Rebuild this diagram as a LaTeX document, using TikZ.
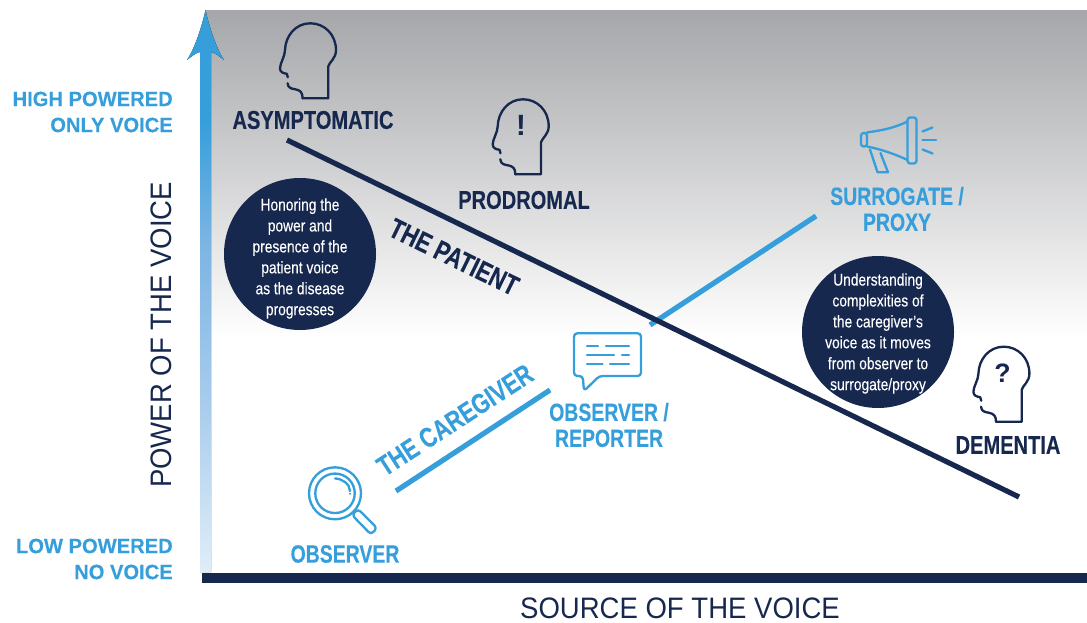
\documentclass[tikz,border=0pt]{standalone}
\usepackage{fontspec}
\setmainfont{Liberation Sans}
\newfontfamily\narrowbold[FakeStretch=0.78,FakeBold=0.25]{Liberation Sans Bold}
\newfontfamily\narrowreg[FakeStretch=0.82,FakeBold=0.15]{Liberation Sans}
\newfontfamily\lightreg[FakeStretch=0.93]{Liberation Sans}
\newfontfamily\sidebold[FakeStretch=0.975,FakeBold=0.2]{Liberation Sans Bold}
\definecolor{navy}{HTML}{17284F}
\definecolor{sky}{HTML}{369FDB}
\definecolor{topgray}{HTML}{A6A7AA}
\definecolor{fadeA}{HTML}{7BB4E3}
\definecolor{fadeB}{HTML}{A8CCEC}
\definecolor{fadeC}{HTML}{E0EDF8}
\pgfdeclareverticalshading{arrowfade}{100bp}{color(0bp)=(fadeC); color(25bp)=(fadeC); color(40bp)=(fadeB); color(54.5bp)=(fadeA); color(65bp)=(sky); color(100bp)=(sky)}
\tikzset{
  navyline/.style={draw=navy,line width=3.9pt},
  skyline/.style={draw=sky,line width=3.9pt},
  navylabel/.style={text=navy,inner sep=0pt,align=center,font=\narrowbold\fontsize{19.3}{20}\selectfont},
  skylabel/.style={text=sky,inner sep=0pt,align=center,font=\narrowbold\fontsize{18.7}{19.5}\selectfont},
  slanted/.style={font=\narrowbold\fontsize{21}{21}\selectfont},
  axisside/.style={text=sky,inner sep=0pt,align=right,anchor=east,font=\sidebold\fontsize{15.5}{19.5}\selectfont},
  axistitle/.style={text=navy,inner sep=0pt,font=\lightreg\fontsize{22.2}{24}\selectfont},
  bubble/.style={circle,fill=navy,draw=none,minimum size=114pt,inner sep=0pt},
  bubbletext/.style={inner sep=0pt,text=white,align=center,font=\narrowreg\fontsize{12.6}{15.7}\selectfont},
  icon/.style={line width=1.75pt,line cap=round,line join=round},
  head/.pic={
    \draw[icon,navy] (-25.7,0) -- (0,0) -- (0,-32)
      .. controls (1,-36) and (7.7,-40) .. (7.7,-48)
      .. controls (7.7,-64) and (-4,-75) .. (-18,-75)
      .. controls (-33,-75) and (-43,-62) .. (-43.3,-48)
      .. controls (-43.3,-42) and (-48.3,-35) .. (-48.3,-30)
      .. controls (-48.3,-26) and (-45,-25) .. (-41.5,-24.5)
      -- (-40.5,-21);
    \draw[icon,navy] (-40.7,-15) .. controls (-40.5,-10) and (-36,-9.5) .. (-33,-9)
      .. controls (-28,-8) and (-25.7,-6) .. (-25.7,0);
  }
}
\begin{document}
\begin{tikzpicture}[x=0.75pt,y=-0.75pt]
\useasboundingbox (0,0) rectangle (1087,623);
% background
\fill[top color=topgray,bottom color=white] (205,11) rectangle (1087,338);
% vertical arrow
\fill[shading=arrowfade]
  (205.5,10) .. controls (209,26) and (216,48) .. (224,60)
  .. controls (219,56) and (215,53) .. (211,52) -- (211,572) -- (200,572) -- (200,52)
  .. controls (196,53) and (192,56) .. (187,60)
  .. controls (195,48) and (202,26) .. (205.5,10) -- cycle;
% horizontal axis
\fill[navy] (202,572.5) rectangle (1087,582.5);
% connectors
\coordinate (patientA) at (287,140);
\coordinate (patientB) at (1019,497);
\coordinate (careA) at (396,491);
\coordinate (careB) at (550,390);
\coordinate (surrA) at (650,325);
\coordinate (surrB) at (816,216);
\draw[skyline] (surrA) -- (surrB);
\draw[navyline] (patientA) -- (patientB);
\draw[skyline] (careA) -- (careB);
% heads
\pic at (328.3,98.3) {head};
\pic at (541,174.3) {head};
\pic at (1021.7,421.7) {head};
\node[text=navy,inner sep=0pt,font=\bfseries\fontsize{22}{22}\selectfont] (exclaim) at (521,125.5) {!};
\node[text=navy,inner sep=0pt,font=\bfseries\fontsize{20}{20}\selectfont] (query) at (1002.5,373) {?};
% megaphone
\begin{scope}[icon,sky]
  \draw[rounded corners=2pt] (907.5,117.5) rectangle (916.5,163.5);
  \draw (907.5,121.5) .. controls (890,130) and (875,131) .. (867,132.5);
  \draw (907.5,160) .. controls (895,154) and (880,149) .. (867,146.5);
  \draw[rounded corners=2pt] (867,133) -- (861,133) -- (861,146.5) -- (867,146.5) -- cycle;
  \draw (870,149.5) -- (877.5,172.3) -- (888,172.3) -- (880.5,153);
  \draw (922.5,131.5) -- (932.5,127.5);
  \draw (922.5,140) -- (936,140);
  \draw (922.5,149.5) -- (932.5,153.5);
\end{scope}
% speech bubble
\begin{scope}[icon,sky]
  \draw[rounded corners=2.5pt] (574,333.3) -- (641,333.3) -- (641,376) -- (599.3,376) -- (584,391) -- (582.7,376) -- (574,376) -- cycle;
  \draw (587,345.7) -- (598,345.7) (606,345.7) -- (629,345.7);
  \draw (587,354.7) -- (614,354.7) (622,354.7) -- (629,354.7);
  \draw (587,363.7) -- (602.5,363.7) (610,363.7) -- (629,363.7);
\end{scope}
% magnifier
\begin{scope}[icon,sky]
  \draw (335,493.3) circle[radius=19.5pt];
  \draw (335,493.3) circle[radius=14.8pt];
  \draw (335,478.5) .. controls (342,478.5) and (350,484) .. (350,491);
  \fill (350,493.7) circle[radius=0.8pt];
  \draw[rounded corners=2.5pt] (352,515) -- (358,509) -- (377,528) -- (371,534.5) -- cycle;
\end{scope}
% labels
\node[navylabel] (asym) at (313,120) {ASYMPTOMATIC};
\node[navylabel] (prod) at (524,200) {PRODROMAL};
\node[navylabel] (dem) at (1008,445) {DEMENTIA};
\node[navylabel,slanted,rotate=-26] (thepatient) at (454,257) {THE PATIENT};
\node[skylabel] (surr) at (897,209) {SURROGATE /\\PROXY};
\node[skylabel] (obsrep) at (609,425) {OBSERVER /\\REPORTER};
\node[skylabel] (obs) at (345,554) {OBSERVER};
\node[skylabel,slanted,rotate=33] (thecare) at (455,420) {THE CAREGIVER};
\node[axisside] (high) at (173,112) {HIGH POWERED\\ONLY VOICE};
\node[axisside] (low) at (173,559) {LOW POWERED\\NO VOICE};
\node[axistitle,rotate=90] (ypow) at (161,335) {POWER OF THE VOICE};
\node[axistitle] (xsrc) at (680,608.5) {SOURCE OF THE VOICE};
% circles
\node[bubble] (bubA) at (300,254) {};
\node[bubbletext] (txtA) at (300,258.5) {Honoring the\\power and\\presence of the\\patient voice\\as the disease\\progresses};
\node[bubble] (bubB) at (878,332) {};
\node[bubbletext] (txtB) at (878,333.5) {Understanding\\complexities of\\the caregiver’s\\voice as it moves\\from observer to\\surrogate/proxy};
\end{tikzpicture}
\end{document}
